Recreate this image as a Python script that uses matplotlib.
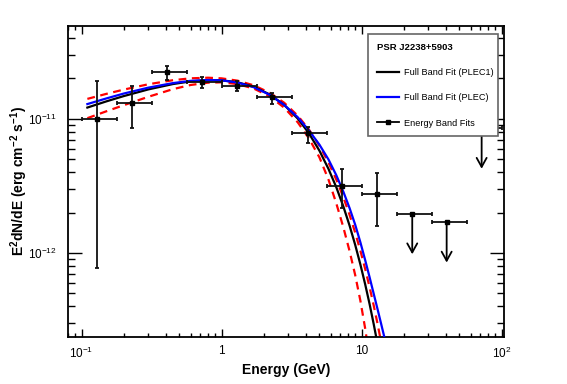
import numpy as np
import matplotlib
matplotlib.use('Agg')
import matplotlib.pyplot as plt
from matplotlib.lines import Line2D
from matplotlib.ticker import LogLocator, FixedLocator, FixedFormatter, NullFormatter

plt.rcParams['font.family'] = ['Liberation Sans', 'DejaVu Sans']
plt.rcParams['mathtext.default'] = 'regular'

# full band fit curves, flux in units of 1e-11 erg cm^-2 s^-1
energy_fit = [0.11, 0.15, 0.2, 0.3, 0.45, 0.6, 0.8, 1.0, 1.3, 1.7, 2.2, 2.8, 3.5, 4.2,
              5.0, 5.8, 6.6, 7.4, 8.2, 9.0, 9.8, 10.6, 11.4, 12.2, 13.0, 13.8, 14.6, 15.4]
plec1 = [1.214, 1.349, 1.478, 1.658, 1.818, 1.902, 1.944, 1.938, 1.873, 1.732, 1.523, 1.271,
         1.005, 0.782, 0.579, 0.424, 0.309, 0.2232, 0.1607, 0.1152, 0.0823, 0.0587, 0.0418,
         0.0296, 0.0210, 0.0149]
plec = [1.289, 1.419, 1.544, 1.709, 1.848, 1.920, 1.949, 1.938, 1.864, 1.720, 1.513, 1.271,
        1.028, 0.822, 0.642, 0.4984, 0.3798, 0.2875, 0.2168, 0.1627, 0.1204, 0.0888, 0.0662,
        0.0498, 0.0382, 0.0296, 0.0232, 0.0182]
band_hi = [1.409, 1.535, 1.652, 1.811, 1.942, 2.005, 2.026, 2.004, 1.926, 1.777, 1.567, 1.318,
           1.056, 0.835, 0.631, 0.4733, 0.3525, 0.2613, 0.1930, 0.1420, 0.1043, 0.0764, 0.0558,
           0.0408, 0.0297, 0.0216, 0.0157]
band_lo = [1.012, 1.138, 1.264, 1.461, 1.666, 1.788, 1.861, 1.872, 1.817, 1.681, 1.472, 1.213,
           0.942, 0.718, 0.516, 0.353, 0.2342, 0.1562, 0.1038, 0.0686, 0.0442, 0.0275, 0.0166]

# energy band fits
band_e = [0.128, 0.228, 0.405, 0.727, 1.28, 2.28, 4.11, 7.2, 12.9]
band_e_lo = [0.1, 0.178, 0.316, 0.562, 1.0, 1.78, 3.16, 5.62, 10.0]
band_e_hi = [0.178, 0.316, 0.562, 1.0, 1.78, 3.16, 5.62, 10.0, 17.8]
band_flux = [1.0, 1.32, 2.22, 1.89, 1.77, 1.45, 0.78, 0.318, 0.275]
band_flux_lo = [0.078, 0.86, 1.95, 1.71, 1.62, 1.29, 0.66, 0.215, 0.158]
band_flux_hi = [1.92, 1.77, 2.49, 2.05, 1.90, 1.57, 0.875, 0.423, 0.395]

# upper limits
ul_e = [23.0, 40.5, 72.0]
ul_e_lo = [17.8, 31.6, 56.2]
ul_e_hi = [31.6, 56.2, 100.0]
ul_flux = [0.196, 0.170, 0.85]

scale = 1e-11

fig = plt.figure(figsize=(5.67, 3.84), dpi=100)
ax = fig.add_axes([68 / 567, 47 / 384, 436 / 567, 311 / 384])

def curve(vals):
    return np.array(energy_fit[:len(vals)]), np.array(vals) * scale

ax.plot(*curve(band_hi), color='red', lw=1.6, ls=(0, (3.5, 2.5)), zorder=2)
ax.plot(*curve(band_lo), color='red', lw=1.6, ls=(0, (3.5, 2.5)), zorder=2)
ax.plot(*curve(plec1), color='black', lw=1.6, zorder=3)
ax.plot(*curve(plec), color='blue', lw=1.6, zorder=3)

e = np.array(band_e)
f = np.array(band_flux) * scale
xerr = [e - np.array(band_e_lo), np.array(band_e_hi) - e]
yerr = [f - np.array(band_flux_lo) * scale, np.array(band_flux_hi) * scale - f]
ax.errorbar(e, f, xerr=xerr, yerr=yerr, fmt='s', ms=3.2, color='black', ecolor='#111111',
            elinewidth=1.3, capsize=1.5, capthick=1.3, zorder=4)

ue = np.array(ul_e)
uf = np.array(ul_flux) * scale
ax.errorbar(ue, uf, xerr=[ue - np.array(ul_e_lo), np.array(ul_e_hi) - ue], fmt='s', ms=3.2,
            color='black', ecolor='#111111', elinewidth=1.3, capsize=1.5, capthick=1.3, zorder=4)
for x, y in zip(ue, uf):
    ax.annotate('', xy=(x, y * 0.5), xytext=(x, y),
                arrowprops=dict(arrowstyle='->,head_length=0.65,head_width=0.36',
                                lw=1.3, color='black', shrinkA=0, shrinkB=0), zorder=4)

ax.set_xscale('log')
ax.set_yscale('log')
ax.set_xlim(0.08, 104)
ax.set_ylim(2.37e-13, 4.92e-11)

ax.xaxis.set_major_locator(FixedLocator([0.1, 1, 10, 100]))
ax.xaxis.set_major_formatter(FixedFormatter(['$10^{-1}$', '1', '10', '$10^{2}$']))
ax.xaxis.set_minor_locator(LogLocator(base=10, subs=np.arange(2, 10)))
ax.xaxis.set_minor_formatter(NullFormatter())
ax.yaxis.set_major_locator(FixedLocator([1e-12, 1e-11]))
ax.yaxis.set_major_formatter(FixedFormatter(['$10^{-12}$', '$10^{-11}$']))
ax.yaxis.set_minor_locator(LogLocator(base=10, subs=np.arange(2, 10)))
ax.yaxis.set_minor_formatter(NullFormatter())

ax.tick_params(which='both', direction='in', top=True, right=True, labelsize=8.5)
ax.tick_params(axis='x', which='major', length=5.8, width=1, pad=6)
ax.tick_params(axis='x', which='minor', length=3, width=1)
ax.tick_params(axis='y', which='major', length=10, width=1, pad=8)
ax.tick_params(axis='y', which='minor', length=5, width=1)
for s in ax.spines.values():
    s.set_linewidth(1.3)

ax.set_xlabel('Energy (GeV)', fontsize=10, fontweight='bold')
ax.xaxis.set_label_coords(0.5, -0.084)
ax.set_ylabel('E$^{2}$dN/dE (erg cm$^{-2}$ s$^{-1}$)', fontsize=10, fontweight='bold')
ax.yaxis.set_label_coords(-0.087, 0.5)

handles = [Line2D([], [], color='black', lw=1.6),
           Line2D([], [], color='blue', lw=1.6),
           Line2D([], [], color='black', lw=1.3, marker='s', ms=3.2)]
labels = ['Full Band Fit (PLEC1)', 'Full Band Fit (PLEC)', 'Energy Band Fits']
leg = ax.legend(handles, labels, loc='upper left', mode='expand',
                bbox_to_anchor=(368 / 567, 0.5, 130 / 567, 1 - 34 / 384 - 0.5),
                bbox_transform=fig.transFigure, fontsize=6.6, title='PSR J2238+5903',
                title_fontproperties={'weight': 'bold', 'size': 6.8}, alignment='left',
                fancybox=False, framealpha=1, edgecolor='#666666', borderpad=0.95,
                labelspacing=1.78, handlelength=2.4, handletextpad=0.55, borderaxespad=0)
leg.get_frame().set_linewidth(1.2)
leg.set_zorder(10)

fig.savefig('out.png', dpi=100)
